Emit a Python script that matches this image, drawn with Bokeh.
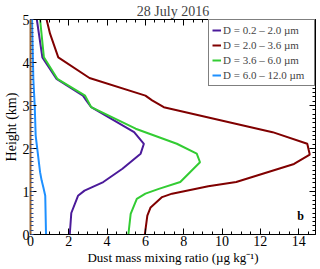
import math
from bokeh.plotting import figure
from bokeh.models import (Range1d, LinearAxis, SingleIntervalTicker, Legend, LegendItem, Label)
from bokeh.embed import file_html
from bokeh.resources import INLINE

title_text = "28 July 2016"
x_label = "Dust mass mixing ratio (\u00b5g kg\u207b\u00b9)"
y_label = "Height (km)"
series_labels = ["D = 0.2 \u2013 2.0 \u00b5m", "D = 2.0 \u2013 3.6 \u00b5m",
                 "D = 3.6 \u2013 6.0 \u00b5m", "D = 6.0 \u2013 12.0 \u00b5m"]
series_colors = ["#4B1A9A", "#800000", "#33CC33", "#1E90FF"]

purple_h = [0, 0.5, 0.9, 1.02, 1.22, 1.53, 1.88, 2.11, 2.38, 2.96, 3.12, 3.23, 3.62, 4.12, 5]
purple_x = [2.05, 2.13, 2.48, 2.82, 3.8, 4.8, 5.75, 5.92, 5.41, 3.17, 2.91, 2.74, 1.36, 0.62, 0.33]

red_h = [0, 0.44, 0.63, 0.87, 0.95, 1.06, 1.12, 1.22, 1.64, 1.86, 2.11, 2.38, 2.96, 3.12, 3.23, 3.64, 4.12, 4.67, 5]
red_x = [5.97, 6.1, 6.27, 6.87, 7.39, 8.59, 9.28, 10.74, 13.76, 14.58, 14.45, 12.64, 6.96, 6.35, 6.0, 3.08, 1.45, 1.02, 0.84]

green_h = [0, 0.48, 0.83, 0.95, 1.06, 1.22, 1.68, 1.88, 2.11, 2.46, 2.96, 3.23, 3.62, 4.12, 5]
green_x = [5.11, 5.23, 5.55, 6.0, 6.7, 7.82, 8.85, 8.68, 7.64, 5.49, 3.17, 2.85, 1.4, 0.7, 0.5]

blue_h = [0, 0.9, 1.1, 1.26, 1.45, 2.3, 3.0, 3.6, 5]
blue_x = [0.81, 0.77, 0.67, 0.58, 0.5, 0.27, 0.22, 0.15, 0.08]

x_max = 14.88
y_max = 5.0

FONT = "Liberation Serif"

p = figure(width=320, height=269, output_backend="svg", toolbar_location=None,
           x_range=Range1d(0, x_max), y_range=Range1d(0, y_max),
           x_axis_location=None, y_axis_location=None,
           min_border_left=27, min_border_right=5, min_border_top=19, min_border_bottom=35)
p.xgrid.visible = False
p.ygrid.visible = False
p.outline_line_color = None
p.background_fill_color = "white"
p.border_fill_color = "white"

p.title.text = title_text
p.title.align = "center"
p.title.text_font = FONT
p.title.text_font_size = "14px"
p.title.text_font_style = "normal"
p.title.standoff = 1
p.title.offset = 0


def make_axis(kind, side):
    if kind == "x":
        ticker = SingleIntervalTicker(interval=2, num_minor_ticks=4)
    else:
        ticker = SingleIntervalTicker(interval=1, num_minor_ticks=10)
    ax = LinearAxis(ticker=ticker)
    ax.major_tick_in = 6
    ax.major_tick_out = 0
    ax.minor_tick_in = 3
    ax.minor_tick_out = 0
    ax.axis_line_color = "black"
    ax.major_tick_line_color = "black"
    ax.minor_tick_line_color = "black"
    ax.major_label_text_font = FONT
    ax.major_label_text_font_size = "14px"
    ax.major_label_text_color = "black"
    ax.major_label_standoff = 1
    ax.axis_label_text_font = FONT
    ax.axis_label_text_font_size = "14px"
    ax.axis_label_text_font_style = "normal"
    ax.axis_label_text_color = "black"
    ax.axis_label_standoff = 1
    if side in ("above", "right"):
        ax.major_label_text_font_size = "0px"
        ax.major_label_standoff = 0
    p.add_layout(ax, side)
    return ax


bx = make_axis("x", "below")
tx = make_axis("x", "above")
ly = make_axis("y", "left")
ry = make_axis("y", "right")
bx.axis_label = x_label
bx.axis_label_text_font_size = "13px"
ly.axis_label = y_label
ly.axis_line_color = "#9A6530"
ly.axis_line_width = 2
ly.minor_tick_line_color = "#2a4a90"

r1 = p.line(purple_x, purple_h, line_color=series_colors[0], line_width=2)
r2 = p.line(red_x, red_h, line_color=series_colors[1], line_width=2)
r3 = p.line(green_x, green_h, line_color=series_colors[2], line_width=2)
r4 = p.line(blue_x, blue_h, line_color=series_colors[3], line_width=2)

legend = Legend(items=[LegendItem(label=series_labels[0], renderers=[r1]),
                       LegendItem(label=series_labels[1], renderers=[r2]),
                       LegendItem(label=series_labels[2], renderers=[r3]),
                       LegendItem(label=series_labels[3], renderers=[r4])],
                location="top_right", margin=0, padding=3, spacing=1,
                label_height=14, glyph_height=14, glyph_width=9, label_standoff=2,
                label_width=88,
                label_text_font=FONT, label_text_font_size="11px",
                border_line_color="black", border_line_width=1,
                background_fill_color="white", background_fill_alpha=1.0)
p.add_layout(legend)

p.add_layout(Label(x=14.1, y=0.42, x_units="data", y_units="data",
                   text="b", text_align="center", text_baseline="middle",
                   text_font=FONT, text_font_size="12px", text_font_style="bold", text_color="black"))

open("out.html", "w").write(file_html(p, INLINE))
